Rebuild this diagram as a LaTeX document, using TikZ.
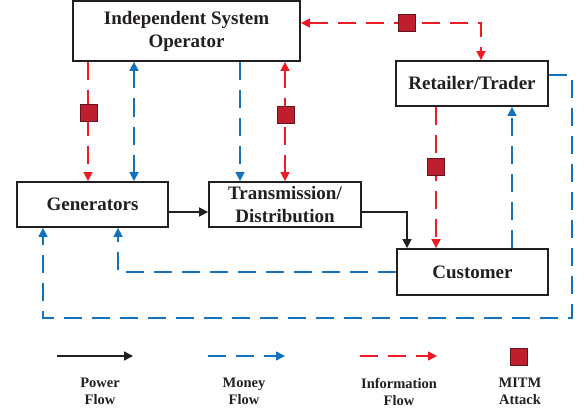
\documentclass[tikz,border=0pt]{standalone}
\usepackage{fontspec}
\setmainfont{Liberation Serif}
\usetikzlibrary{arrows.meta}
\definecolor{infored}{RGB}{237,28,36}
\definecolor{moneyblue}{RGB}{20,114,189}
\definecolor{boxblack}{RGB}{35,31,32}
\definecolor{mitmfill}{RGB}{190,30,45}
\definecolor{mitmdraw}{RGB}{100,20,28}
\tikzset{
  ent/.style={draw=boxblack, line width=1.8pt, fill=white, inner sep=0pt, align=center,
    text=boxblack, font=\fontsize{19}{23}\selectfont\bfseries},
  tipA/.tip={Triangle[length=9pt,width=9pt]},
  power/.style={draw=boxblack, line width=1.6pt, -tipA},
  money/.style={draw=moneyblue, line width=1.6pt, dash pattern=on 18pt off 10pt},
  info/.style={draw=infored, line width=1.6pt, dash pattern=on 18pt off 10pt},
  mitm/.style={draw=mitmdraw, fill=mitmfill, line width=0.8pt, minimum size=17pt, inner sep=0pt},
  leg/.style={align=center, text=boxblack, font=\fontsize{14.5}{17}\selectfont\bfseries, inner sep=0pt}
}
\begin{document}
\begin{tikzpicture}[x=1pt,y=-1pt]
\useasboundingbox (0,0) rectangle (584,412);
% boxes
\node[ent, minimum width=227pt, minimum height=60pt] (iso) at (186.5,31) {Independent System\\Operator};
\node[ent, minimum width=152pt, minimum height=45pt] (ret) at (472,83.5) {Retailer/Trader};
\node[ent, minimum width=151pt, minimum height=45pt] (gen) at (92.5,204.5) {Generators};
\node[ent, minimum width=152pt, minimum height=45pt] (tra) at (285,204.5) {Transmission/\\Distribution};
\node[ent, minimum width=151pt, minimum height=46pt] (cus) at (472.5,272) {Customer};
% helper coordinates
\coordinate (c43) at (43,0);
\coordinate (c88) at (88,0);
\coordinate (c118) at (118,0);
\coordinate (c134) at (134,0);
\coordinate (c240) at (240,0);
\coordinate (c285) at (285,0);
\coordinate (c407) at (407,0);
\coordinate (c436) at (436,0);
\coordinate (c481) at (481,0);
\coordinate (c512) at (512,0);
\coordinate (r23) at (0,23);
\coordinate (r75) at (0,75);
\coordinate (r212) at (0,212);
\coordinate (r272) at (0,272);
\coordinate (outer) at (572,318);
% information flows
\draw[info, -tipA] (iso.south -| c88) -- (gen.north -| c88);
\draw[info, tipA-tipA] (iso.south -| c285) -- (tra.north -| c285);
\draw[info, tipA-tipA] (iso.east |- r23) -| (ret.north -| c481);
\draw[info, -tipA] (ret.south -| c436) -- (cus.north -| c436);
% money flows
\draw[money, tipA-tipA] (iso.south -| c134) -- (gen.north -| c134);
\draw[money, -tipA] (iso.south -| c240) -- (tra.north -| c240);
\draw[money, -tipA] (cus.north -| c512) -- (ret.south -| c512);
\draw[money, -tipA] (ret.east |- r75) -| (outer) -| (gen.south -| c43);
\draw[money, -tipA] (cus.west |- r272) -| (gen.south -| c118);
% power flows
\draw[power] (gen.east |- r212) -- (tra.west |- r212);
\draw[power] (tra.east |- r212) -| (cus.north -| c407);
% MITM attacks
\node[mitm] (m1) at (88.5,113) {};
\node[mitm] (m2) at (285.5,114.5) {};
\node[mitm] (m3) at (406.5,22.5) {};
\node[mitm] (m4) at (436,166.5) {};
% legend
\coordinate (lp1) at (57,356);
\coordinate (lp2) at (133,356);
\coordinate (lm1) at (208,356);
\coordinate (lm2) at (285,356);
\coordinate (li1) at (360,356);
\coordinate (li2) at (437,356);
\draw[power] (lp1) -- (lp2);
\draw[money, -tipA] (lm1) -- (lm2);
\draw[info, -tipA] (li1) -- (li2);
\node[mitm] (lmitm) at (519,356.5) {};
\node[leg] (tp) at (100,391.5) {Power\\Flow};
\node[leg] (tm) at (244,391.5) {Money\\Flow};
\node[leg] (ti) at (399,391.5) {Information\\Flow};
\node[leg] (tmi) at (520,391.5) {MITM\\Attack};
\end{tikzpicture}
\end{document}
